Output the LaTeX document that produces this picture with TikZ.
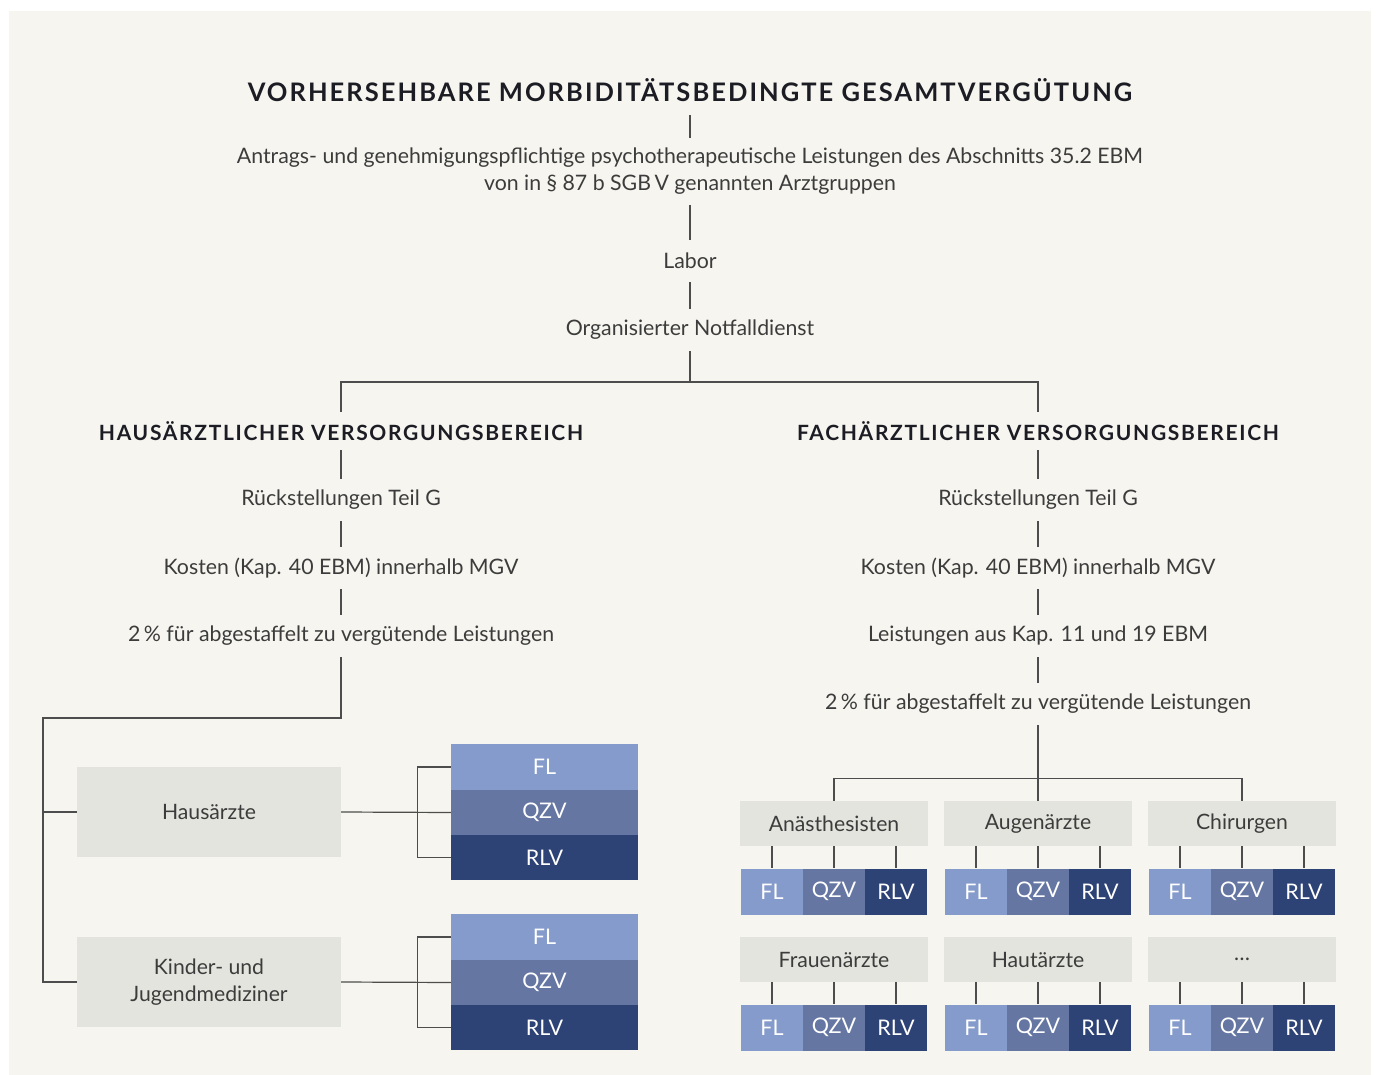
\documentclass[tikz,border=0pt]{standalone}
\usepackage{fontspec}
\setmainfont{Lato}
\newfontfamily\titlefont[LetterSpace=8]{Lato}
\definecolor{bgc}{HTML}{F6F5EF}
\definecolor{boxc}{HTML}{E4E4DF}
\definecolor{flc}{HTML}{849BCB}
\definecolor{qzvc}{HTML}{6576A3}
\definecolor{rlvc}{HTML}{2D4275}
\definecolor{linec}{HTML}{4D4D4D}
\definecolor{txtc}{HTML}{3C3C3C}
\definecolor{titc}{HTML}{1C1C24}
\tikzset{
  txt/.style={font=\fontsize{21.3}{27}\selectfont, text=txtc, inner sep=0, minimum height=42, align=center},
  head/.style={font=\titlefont\bfseries\fontsize{21}{24}\selectfont, text=titc, inner sep=0, minimum height=38},
  ttl/.style={font=\titlefont\bfseries\fontsize{25.5}{28}\selectfont, text=titc, inner sep=0, minimum height=50},
  conn/.style={draw=linec, line width=1.2},
  grpbox/.style={fill=boxc, inner sep=0, text=txtc, font=\fontsize{21.2}{27}\selectfont, align=center},
  cell/.style={inner sep=0, text=white, font=\fontsize{21.5}{24}\selectfont},
  flcell/.style={cell, fill=flc},
  qzvcell/.style={cell, fill=qzvc},
  rlvcell/.style={cell, fill=rlvc},
}
\begin{document}
\begin{tikzpicture}[x=1pt,y=-1pt]
\useasboundingbox (0,0) rectangle (1376,1075);
\fill[white] (0,0) rectangle (1376,1075);
\fill[bgc] (9,11) rectangle (1371,1075);

% top chain
\node[ttl] (title) at (690,90) {VORHERSEHBARE MORBIDITÄTSBEDINGTE GESAMTVERGÜTUNG};
\node[txt, minimum height=67] (psy) at (690,171.5) {Antrags- und genehmigungspflichtige psychotherapeutische Leistungen des Abschnitts 35.2 EBM\\von in § 87 b SGB\,V genannten Arztgruppen};
\node[txt] (labor) at (690,261) {Labor};
\node[txt] (notf) at (690,330) {Organisierter Notfalldienst};
\draw[conn] (title.south) -- (psy.north);
\draw[conn] (psy.south) -- (labor.north);
\draw[conn] (labor.south) -- (notf.north);

% two branches
\node[head] (haus) at (341,431) {HAUSÄRZTLICHER VERSORGUNGSBEREICH};
\node[head] (fach) at (1038,431) {FACHÄRZTLICHER VERSORGUNGSBEREICH};
\coordinate (split) at (690,382);
\draw[conn] (notf.south) -- (split);
\draw[conn] (split) -| (haus.north);
\draw[conn] (split) -| (fach.north);

% left chain
\node[txt] (hr) at (341,500) {Rückstellungen Teil G};
\node[txt] (hk) at (341,568) {Kosten (Kap. 40 EBM) innerhalb MGV};
\node[txt] (hp) at (341,636) {2\,\% für abgestaffelt zu vergütende Leistungen};
\draw[conn] (haus.south) -- (hr.north);
\draw[conn] (hr.south) -- (hk.north);
\draw[conn] (hk.south) -- (hp.north);

% right chain
\node[txt] (fr) at (1038,500) {Rückstellungen Teil G};
\node[txt] (fk) at (1038,568) {Kosten (Kap. 40 EBM) innerhalb MGV};
\node[txt] (fl) at (1038,636) {Leistungen aus Kap. 11 und 19 EBM};
\node[txt] (fp) at (1038,704) {2\,\% für abgestaffelt zu vergütende Leistungen};
\draw[conn] (fach.south) -- (fr.north);
\draw[conn] (fr.south) -- (fk.north);
\draw[conn] (fk.south) -- (fl.north);
\draw[conn] (fl.south) -- (fp.north);

% left lower part
\node[grpbox, minimum width=264, minimum height=90] (ha) at (209,812) {Hausärzte};
\node[grpbox, minimum width=264, minimum height=90] (kj) at (209,982) {Kinder- und\\Jugendmediziner};
\coordinate (lbend) at (43,718);
\draw[conn] (hp.south) |- (lbend) |- (kj.west);
\draw[conn] (ha.west) -- (ha.west -| lbend);

\foreach \nm/\cy in {a/767, b/937}{
  \node[flcell, minimum width=187, minimum height=46] (\nm fl) at (544.5,\cy) {FL};
  \node[qzvcell, minimum width=187, minimum height=45] (\nm qzv) at (544.5,\cy+45.5) {QZV};
  \node[rlvcell, minimum width=187, minimum height=45] (\nm rlv) at (544.5,\cy+90.5) {RLV};
  \draw[conn] (\nm fl.west) -- ++(-33,0) |- (\nm rlv.west);
}
\draw[conn] (ha.east) -- (aqzv.west);
\draw[conn] (kj.east) -- (bqzv.west);

% right lower part: specialty groups
\foreach \nm/\lab/\cx/\cy in {an/Anästhesisten/834/823.5, au/Augenärzte/1038/823.5, ch/Chirurgen/1242/823.5,
                               fr/Frauenärzte/834/959.5, hu/Hautärzte/1038/959.5, dd/…/1242/959.5}{
  \node[grpbox, minimum width=188, minimum height=45] (\nm) at (\cx,\cy) {\lab};
  \node[flcell, minimum width=62, minimum height=46] (\nm fl) at (\cx-62,\cy+68) {FL};
  \node[qzvcell, minimum width=62, minimum height=46] (\nm qzv) at (\cx,\cy+68) {QZV};
  \node[rlvcell, minimum width=62, minimum height=46] (\nm rlv) at (\cx+62,\cy+68) {RLV};
  \draw[conn] (\nm fl.north |- \nm.south) -- (\nm fl.north);
  \draw[conn] (\nm qzv.north |- \nm.south) -- (\nm qzv.north);
  \draw[conn] (\nm rlv.north |- \nm.south) -- (\nm rlv.north);
}
\draw[conn] (fp.south) -- (au.north);
\draw[conn] (an.north) -- ++(0,-22) -| (ch.north);
\end{tikzpicture}
\end{document}
